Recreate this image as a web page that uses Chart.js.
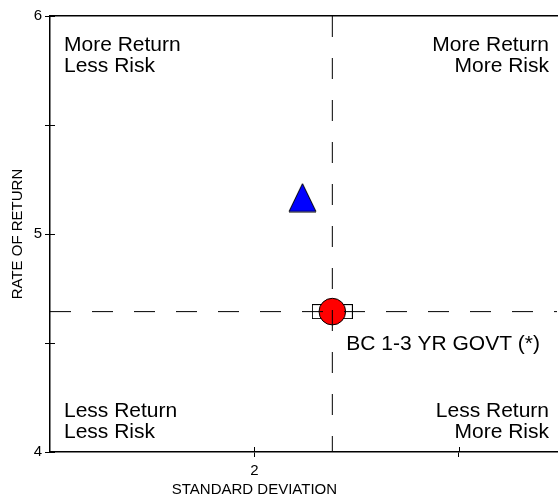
<!DOCTYPE html>
<html>
<head>
<meta charset="utf-8">
<script src="https://cdn.jsdelivr.net/npm/chart.js@4.4.1/dist/chart.umd.min.js"></script>
<style>
    html, body { margin: 0; padding: 0; background: #fff; overflow: hidden; }
    canvas { display: block; }
</style>
</head>
<body>
<canvas id="riskChart" width="559" height="499"></canvas>
<script>
// values
const fundPoint = [{ x: 2.235, y: 5.167 }];
const benchmarkPoint = [{ x: 2.381, y: 4.644 }];
const benchmarkLabel = 'BC 1-3 YR GOVT (*)';
const xRange = [1, 3.48];
const yRange = [4, 6];
const xTicks = [2, 3];
const xTickLabels = ['2', ''];
const yTicks = [4, 4.5, 5, 5.5, 6];
const yTickLabels = ['4', '', '5', '', '6'];
const quadrantLabels = [
    ['More Return', 'Less Risk'],
    ['More Return', 'More Risk'],
    ['Less Return', 'Less Risk'],
    ['Less Return', 'More Risk']
];
const xTitle = 'STANDARD DEVIATION';

const FONT = "'Liberation Sans', Arial, sans-serif";

function makeBox() {
    let c = document.createElement('canvas');
    c.width = 41;
    c.height = 15;
    let ctx = c.getContext('2d');
    ctx.fillStyle = '#ffffff';
    ctx.fillRect(0.5, 0.5, 40, 14);
    ctx.strokeStyle = '#000000';
    ctx.lineWidth = 1;
    ctx.strokeRect(0.5, 0.5, 40, 14);
    return c;
}

function makeTriangle() {
    let c = document.createElement('canvas');
    c.width = 29;
    c.height = 30;
    let ctx = c.getContext('2d');
    ctx.beginPath();
    ctx.moveTo(14.5, 1);
    ctx.lineTo(28, 29);
    ctx.lineTo(1, 29);
    ctx.closePath();
    ctx.fillStyle = '#0000ff';
    ctx.fill();
    ctx.strokeStyle = '#000000';
    ctx.lineWidth = 1;
    ctx.stroke();
    return c;
}

// inner halves of the tick marks, quadrant notes, x title and the benchmark label
const overlayPlugin = {
    id: 'overlay',
    afterDraw(chart) {
        let ctx = chart.ctx;
        let ca = chart.chartArea;
        let xs = chart.scales.x;
        let ys = chart.scales.y;

        ctx.save();
        ctx.strokeStyle = '#000000';
        ctx.lineWidth = 1;
        ctx.beginPath();
        for (let v of yTicks) {
            let py = Math.round(ys.getPixelForValue(v)) + 0.5;
            ctx.moveTo(ca.left, py);
            ctx.lineTo(ca.left + 5, py);
        }
        for (let v of xTicks) {
            let px = Math.round(xs.getPixelForValue(v)) + 0.5;
            ctx.moveTo(px, ca.bottom);
            ctx.lineTo(px, ca.bottom - 5);
        }
        ctx.stroke();

        ctx.fillStyle = '#000000';
        ctx.font = `21px ${FONT}`;
        ctx.textBaseline = 'middle';

        ctx.textAlign = 'left';
        ctx.fillText(quadrantLabels[0][0], ca.left + 14, ca.top + 29);
        ctx.fillText(quadrantLabels[0][1], ca.left + 14, ca.top + 50);
        ctx.fillText(quadrantLabels[2][0], ca.left + 14, ca.bottom - 41);
        ctx.fillText(quadrantLabels[2][1], ca.left + 14, ca.bottom - 20);

        ctx.textAlign = 'right';
        ctx.fillText(quadrantLabels[1][0], ca.right - 8, ca.top + 29);
        ctx.fillText(quadrantLabels[1][1], ca.right - 8, ca.top + 50);
        ctx.fillText(quadrantLabels[3][0], ca.right - 8, ca.bottom - 41);
        ctx.fillText(quadrantLabels[3][1], ca.right - 8, ca.bottom - 20);

        let bx = xs.getPixelForValue(benchmarkPoint[0].x);
        let by = ys.getPixelForValue(benchmarkPoint[0].y);
        ctx.textAlign = 'left';
        ctx.fillText(benchmarkLabel, bx + 14, by + 33);

        ctx.font = `15px ${FONT}`;
        ctx.textAlign = 'center';
        ctx.fillText(xTitle, xs.getPixelForValue(2), 490);
        ctx.restore();
    }
};

const vLine = [{ x: benchmarkPoint[0].x, y: yRange[1] }, { x: benchmarkPoint[0].x, y: yRange[0] }];
const hLine = [{ x: xRange[0], y: benchmarkPoint[0].y }, { x: xRange[1], y: benchmarkPoint[0].y }];

const lineStyle = {
    type: 'line',
    borderColor: '#000000',
    borderWidth: 1,
    borderDash: [21, 21],
    pointRadius: 0,
    fill: false,
    order: 0
};

new Chart(document.getElementById('riskChart'), {
    type: 'scatter',
    data: {
        datasets: [
            Object.assign({ label: 'v', data: vLine }, lineStyle),
            Object.assign({ label: 'h', data: hLine }, lineStyle),
            {
                label: 'benchmark',
                data: benchmarkPoint,
                pointStyle: 'circle',
                pointRadius: 13.3,
                backgroundColor: '#ff0000',
                borderColor: '#000000',
                borderWidth: 1,
                order: 1
            },
            {
                label: 'benchmark box',
                data: benchmarkPoint,
                pointStyle: makeBox(),
                pointRadius: 10,
                order: 2
            },
            {
                label: 'fund',
                data: fundPoint,
                pointStyle: makeTriangle(),
                pointRadius: 10,
                order: 3
            }
        ]
    },
    options: {
        responsive: false,
        animation: false,
        events: [],
        layout: { autoPadding: false, padding: { left: 0, right: 2, top: 0, bottom: 0 } },
        plugins: {
            legend: { display: false },
            tooltip: { enabled: false }
        },
        scales: {
            x: {
                type: 'linear',
                min: xRange[0],
                max: xRange[1],
                afterBuildTicks: (scale) => { scale.ticks = xTicks.map(v => ({ value: v })); },
                afterFit: (scale) => { scale.height = 47; scale.paddingRight = 0; },
                ticks: {
                    autoSkip: false,
                    maxRotation: 0,
                    padding: 5,
                    color: '#000000',
                    font: { family: FONT, size: 15 },
                    callback: (value) => xTickLabels[xTicks.indexOf(value)]
                },
                grid: { drawOnChartArea: false, tickLength: 5, color: '#000000' },
                border: { color: '#000000', width: 1.5 }
            },
            x2: {
                type: 'linear',
                position: 'top',
                min: xRange[0],
                max: xRange[1],
                afterFit: (scale) => { scale.height = 16; scale.paddingRight = 0; },
                ticks: { display: false },
                grid: { display: false },
                border: { color: '#000000', width: 1.5 }
            },
            y: {
                type: 'linear',
                min: yRange[0],
                max: yRange[1],
                afterBuildTicks: (scale) => { scale.ticks = yTicks.map(v => ({ value: v })); },
                afterFit: (scale) => { scale.width = 50; },
                ticks: {
                    autoSkip: false,
                    padding: 3,
                    color: '#000000',
                    font: { family: FONT, size: 15 },
                    callback: (value) => yTickLabels[yTicks.indexOf(value)]
                },
                grid: { drawOnChartArea: false, tickLength: 5, color: '#000000' },
                border: { color: '#000000', width: 1.5 },
                title: {
                    display: true,
                    text: 'RATE OF RETURN',
                    color: '#000000',
                    font: { family: FONT, size: 15 },
                    padding: { top: 9, bottom: 0 }
                }
            }
        }
    },
    plugins: [overlayPlugin]
});
</script>
</body>
</html>
